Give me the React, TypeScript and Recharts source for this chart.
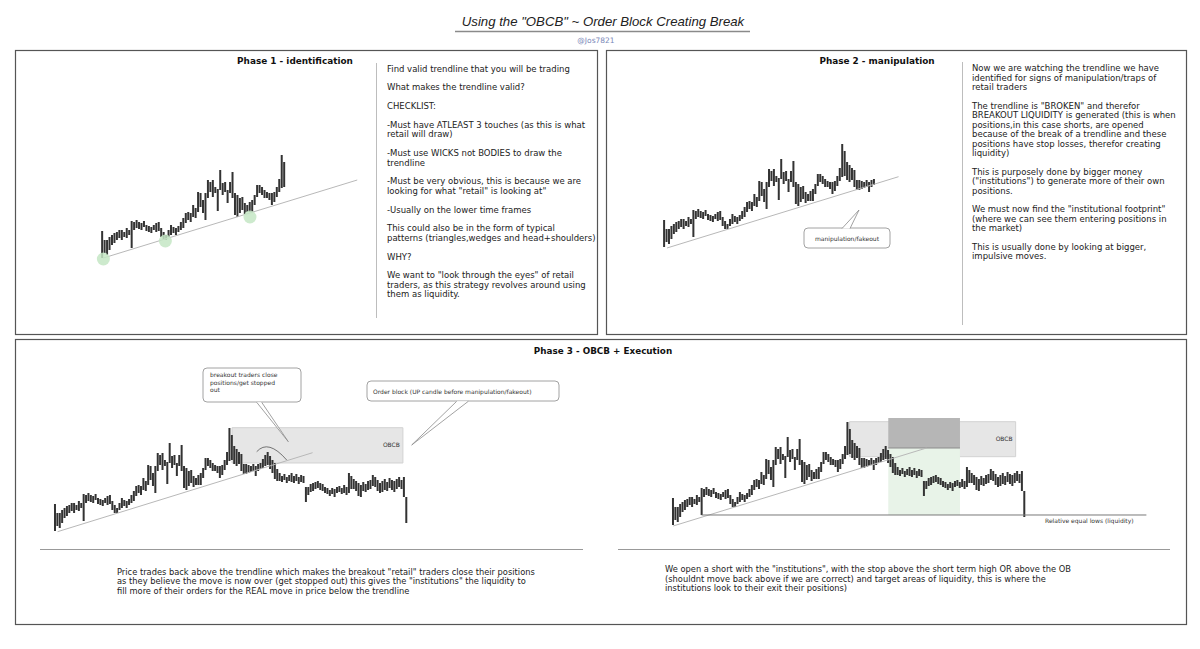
import React from 'react';
import { ComposedChart, Bar, XAxis, YAxis, ReferenceLine, ReferenceArea, ReferenceDot } from 'recharts';

// price is measured in "points" above the first swing low
// bars 0-74: the uptrend that gets the trendline (phase 1)
const trendHighs = [27, 18, 18, 21, 23, 25, 26, 28, 28, 26, 30, 28, 37, 36, 38, 36, 35, 37, 33, 32, 31, 33, 35, 36, 30, 26, 23, 28, 33, 31, 30, 32, 36, 40, 45, 46, 45, 53, 50, 66, 65, 58, 65, 78, 76, 78, 71, 69, 88, 75, 76, 68, 76, 86, 65, 63, 60, 61, 55, 53, 56, 58, 63, 73, 73, 71, 68, 66, 65, 65, 66, 71, 79, 103, 96];
const trendLows = [0, 5, 3, 8, 13, 15, 18, 20, 18, 21, 20, 23, 10, 28, 30, 29, 28, 31, 27, 26, 25, 28, 26, 27, 21, 18, 18, 21, 23, 25, 23, 26, 28, 30, 35, 38, 36, 41, 40, 46, 51, 45, 38, 60, 66, 61, 65, 47, 68, 63, 66, 55, 65, 60, 43, 41, 45, 48, 44, 46, 46, 46, 53, 61, 65, 63, 60, 60, 58, 53, 56, 61, 66, 70, 71];
// bars 75-86: the fakeout under the trendline (phase 2)
const fakeoutHighs = [85, 82, 79, 77, 67, 67, 66, 65, 67, 65, 67, 68];
const fakeoutLows = [67, 65, 67, 60, 57, 57, 58, 59, 60, 55, 60, 62];
// bars 87-147: reclaim, then the real move down (phase 3)
const breakdownHighs = [72, 76, 79, 75, 71, 68, 62, 58, 55, 57, 54, 56, 58, 55, 57, 54, 56, 55, 44, 44, 47, 48, 49, 50, 48, 47, 44, 43, 41, 43, 42, 44, 45, 43, 46, 44, 58, 55, 52, 50, 48, 46, 49, 47, 50, 51, 56, 54, 51, 48, 50, 52, 49, 53, 51, 50, 52, 54, 51, 54, 34];
const breakdownLows = [63, 65, 66, 62, 58, 52, 50, 50, 49, 51, 48, 50, 49, 48, 50, 47, 49, 48, 29, 36, 39, 40, 42, 43, 41, 40, 38, 37, 35, 37, 34, 38, 39, 37, 38, 36, 38, 42, 42, 40, 35, 34, 40, 39, 41, 42, 45, 44, 40, 38, 39, 41, 40, 43, 41, 39, 42, 44, 42, 34, 8];

const touchPoints = [
  { i: 0.4, p: -1 },
  { i: 25.6, p: 17 },
  { i: 60, p: 41 },
];

const highs = [...trendHighs, ...fakeoutHighs, ...breakdownHighs];
const lows = [...trendLows, ...fakeoutLows, ...breakdownLows];
const series = highs.map((h, i) => ({ i, range: [lows[i], h] }));

const phase1Data = series.slice(0, trendHighs.length);
const phase2Data = series.slice(0, trendHighs.length + fakeoutHighs.length);
const phase3Data = series;

const FONT = '"DejaVu Sans", Verdana, sans-serif';
const BAR = '#333';
const TREND = '#b8b8b8';

const phase1Text = [
  ['Find valid trendline that you will be trading'],
  ['What makes the trendline valid?'],
  ['CHECKLIST:'],
  ['-Must have ATLEAST 3 touches (as this is what', 'retail will draw)'],
  ['-Must use WICKS not BODIES to draw the', 'trendline'],
  ['-Must be very obvious, this is because we are', 'looking for what "retail" is looking at"'],
  ['-Usually on the lower time frames'],
  ['This could also be in the form of typical', 'patterns (triangles,wedges and head+shoulders)'],
  ['WHY?'],
  ['We want to "look through the eyes" of retail', 'traders, as this strategy revolves around using', 'them as liquidity.'],
];

const phase2Text = [
  ['Now we are watching the trendline we have', 'identified for signs of manipulation/traps of', 'retail traders'],
  [
    'The trendline is "BROKEN" and therefor',
    'BREAKOUT LIQUIDITY is generated (this is when',
    'positions,in this case shorts, are opened',
    'because of the break of a trendline and these',
    'positions have stop losses, therefor creating',
    'liquidity)',
  ],
  ['This is purposely done by bigger money', '("institutions") to generate more of their own', 'positions.'],
  ['We must now find the "institutional footprint"', '(where we can see them entering positions in', 'the market)'],
  ['This is usually done by looking at bigger,', 'impulsive moves.'],
];

const phase3LeftText = [
  [
    'Price trades back above the trendline which makes the breakout "retail" traders close their positions',
    'as they believe the move is now over (get stopped out) this gives the "institutions" the liquidity to',
    'fill more of their orders for the REAL move in price below the trendline',
  ],
];

const phase3RightText = [
  [
    'We open a short with the "institutions", with the stop above the short term high OR above the OB',
    '(shouldnt move back above if we are correct) and target areas of liquidity, this is where the',
    'institutions look to their exit their positions)',
  ],
];

function Paragraphs({ x, y, paras, size, lineH = 9.6, gap = 9.1 }: any) {
  let cy = y;
  const out: any[] = [];
  paras.forEach((lines: string[], pi: number) => {
    lines.forEach((line, li) => {
      out.push(
        <text key={`${pi}-${li}`} x={x} y={cy}>
          {line}
        </text>
      );
      cy += lineH;
    });
    cy += gap;
  });
  return (
    <g fontSize={size} fill="#222" fontFamily={FONT}>
      {out}
    </g>
  );
}

function PriceChart({ data, x0, y0, step, xDomain, yDomain, under, over }: any) {
  const left = x0 + xDomain[0] * step;
  const width = (xDomain[1] - xDomain[0]) * step;
  const top = y0 - yDomain[1];
  const height = yDomain[1] - yDomain[0];
  return (
    <div style={{ position: 'absolute', left, top, width, height }}>
      <ComposedChart width={width} height={height} data={data} margin={{ top: 0, right: 0, bottom: 0, left: 0 }}>
        <XAxis dataKey="i" type="number" domain={xDomain} hide allowDataOverflow />
        <YAxis type="number" domain={yDomain} hide allowDataOverflow />
        {under}
        <Bar dataKey="range" fill={BAR} barSize={2} isAnimationActive={false} />
        {over}
      </ComposedChart>
    </div>
  );
}

function Callout({ x, y, w, h, tail, lines, size = 6 }: any) {
  return (
    <g>
      <rect x={x} y={y} width={w} height={h} rx={4} fill="#fff" stroke="#8a8a8a" strokeWidth={0.8} />
      <path
        d={`M${tail[0]} ${tail[1]} L${tail[4]} ${tail[5]} L${tail[2]} ${tail[3]}`}
        fill="#fff"
        stroke="#8a8a8a"
        strokeWidth={0.8}
      />
      {lines.map((l: string, k: number) => (
        <text key={k} x={x + 7} y={y + 9 + k * 7.5} fontSize={size} fill="#333" fontFamily={FONT}>
          {l}
        </text>
      ))}
    </g>
  );
}

export default function App() {
  return (
    <div
      style={{
        position: 'absolute',
        left: 0,
        top: 0,
        width: 1200,
        height: 649,
        background: '#fff',
        overflow: 'hidden',
        fontFamily: FONT,
      }}
    >
      {/* Phase 1 */}
      <PriceChart
        data={phase1Data}
        x0={102}
        y0={258}
        step={2.46}
        xDomain={[-3, 106]}
        yDomain={[-10, 108]}
        under={touchPoints.map((t, k) => (
          <ReferenceDot key={k} x={t.i} y={t.p} r={6.5} fill="#c4e6c4" fillOpacity={0.85} stroke="none" />
        ))}
        over={<ReferenceLine segment={[{ x: 0.4, y: 0 }, { x: 103.6, y: 78 }]} stroke={TREND} strokeWidth={1} />}
      />

      {/* Phase 2 */}
      <PriceChart
        data={phase2Data}
        x0={664}
        y0={247}
        step={2.44}
        xDomain={[-3, 98]}
        yDomain={[-10, 108]}
        over={<ReferenceLine segment={[{ x: 1.1, y: -1 }, { x: 96, y: 70.3 }]} stroke={TREND} strokeWidth={1} />}
      />

      {/* Phase 3 left */}
      <PriceChart
        data={phase3Data}
        x0={55.5}
        y0={531}
        step={2.39}
        xDomain={[-3, 150]}
        yDomain={[-10, 110]}
        under={
          <ReferenceArea
            x1={74}
            x2={145.5}
            y1={68}
            y2={103.3}
            fill="#e6e6e6"
            fillOpacity={1}
            stroke="#d2d2d2"
            label={{ value: 'OBCB', position: 'insideRight', offset: 3, fontSize: 6, fill: '#333', fontFamily: FONT }}
          />
        }
        over={<ReferenceLine segment={[{ x: 1, y: -0.7 }, { x: 107.7, y: 78.3 }]} stroke={TREND} strokeWidth={1} />}
      />

      {/* Phase 3 right */}
      <PriceChart
        data={phase3Data}
        x0={673.5}
        y0={525}
        step={2.39}
        xDomain={[-3, 200]}
        yDomain={[-10, 110]}
        under={[
          <ReferenceArea
            key="ob"
            x1={73.8}
            x2={143.3}
            y1={68.3}
            y2={103.3}
            fill="#e6e6e6"
            fillOpacity={1}
            stroke="#d2d2d2"
            label={{ value: 'OBCB', position: 'insideRight', offset: 3, fontSize: 6, fill: '#333', fontFamily: FONT }}
          />,
          <ReferenceArea key="stop" x1={90} x2={120} y1={77} y2={107} fill="#b6b6b6" fillOpacity={1} stroke="none" />,
          <ReferenceArea key="tp" x1={90} x2={120} y1={10} y2={77} fill="#e8f3e8" fillOpacity={1} stroke="none" />,
        ]}
        over={[
          <ReferenceLine key="entry" segment={[{ x: 90, y: 77 }, { x: 120, y: 77 }]} stroke="#8c8c8c" strokeWidth={1.2} />,
          <ReferenceLine key="trend" segment={[{ x: 0, y: -1 }, { x: 106, y: 77 }]} stroke={TREND} strokeWidth={1} />,
          <ReferenceLine key="lows" segment={[{ x: 11.9, y: 10 }, { x: 198, y: 10 }]} stroke="#777" strokeWidth={1} />,
        ]}
      />

      <svg width={1200} height={649} style={{ position: 'absolute', left: 0, top: 0, pointerEvents: 'none' }}>
        {/* title */}
        <text
          x={603}
          y={26}
          textAnchor="middle"
          fontSize={13.2}
          fontStyle="italic"
          fill="#222"
          fontFamily='"Liberation Sans", sans-serif'
        >
          Using the "OBCB" ~ Order Block Creating Break
        </text>
        <line x1={455} x2={750} y1={31.5} y2={31.5} stroke="#8a8a8a" strokeWidth={1.5} />
        <text x={596} y={42.5} textAnchor="middle" fontSize={7.5} fill="#7a88b8" fontFamily={FONT}>
          @Jos7821
        </text>

        {/* panels */}
        <rect x={15.5} y={50.5} width={582} height={284} fill="none" stroke="#555" strokeWidth={1.2} />
        <rect x={606.5} y={50.5} width={580} height={284} fill="none" stroke="#555" strokeWidth={1.2} />
        <rect x={15.5} y={339.5} width={1171} height={285} fill="none" stroke="#555" strokeWidth={1.2} />

        {/* headers */}
        <g fontWeight="bold" fill="#111" fontFamily={FONT} textAnchor="middle">
          <text x={295} y={64} fontSize={8.9}>Phase 1 - identification</text>
          <text x={877} y={64} fontSize={8.9}>Phase 2 - manipulation</text>
          <text x={603} y={353.5} fontSize={8.8}>Phase 3 - OBCB + Execution</text>
        </g>

        {/* separators */}
        <line x1={376.5} x2={376.5} y1={63} y2={318} stroke="#bdbdbd" strokeWidth={1} />
        <line x1={962.5} x2={962.5} y1={62} y2={325} stroke="#bdbdbd" strokeWidth={1} />
        <line x1={40} x2={583} y1={549.5} y2={549.5} stroke="#999" strokeWidth={1} />
        <line x1={618} x2={1170} y1={549.5} y2={549.5} stroke="#999" strokeWidth={1} />

        <Paragraphs x={387} y={71.5} paras={phase1Text} size={8.5} />
        <Paragraphs x={972} y={71} paras={phase2Text} size={8.5} lineH={9.5} gap={9} />
        <Paragraphs x={117} y={574.5} paras={phase3LeftText} size={8.3} lineH={9.5} />
        <Paragraphs x={665} y={572} paras={phase3RightText} size={8.3} lineH={9.5} />

        {/* callouts */}
        <Callout x={804} y={228} w={86} h={20} tail={[842, 228.5, 850, 228.5, 859, 210]} lines={[]} />
        <text x={847} y={240.5} textAnchor="middle" fontSize={6} fill="#333" fontFamily={FONT}>
          manipulation/fakeout
        </text>

        <Callout
          x={203}
          y={368}
          w={98}
          h={34}
          tail={[256.7, 402.3, 261.7, 402.3, 288.3, 441.7]}
          lines={['breakout traders close', 'positions/get stopped', 'out']}
        />
        <Callout
          x={367}
          y={381}
          w={192}
          h={20}
          tail={[456.7, 401.3, 468.3, 401.3, 411.7, 445]}
          lines={[]}
        />
        <text x={373} y={393.5} fontSize={6} fill="#333" fontFamily={FONT}>
          Order block (UP candle before manipulation/fakeout)
        </text>

        <path d="M256.7 451.7 Q268.3 438.8 286.7 460" fill="none" stroke="#555" strokeWidth={0.8} />

        <text x={1045} y={522.5} fontSize={6} fill="#333" fontFamily={FONT}>
          Relative equal lows (liquidity)
        </text>
      </svg>
    </div>
  );
}
